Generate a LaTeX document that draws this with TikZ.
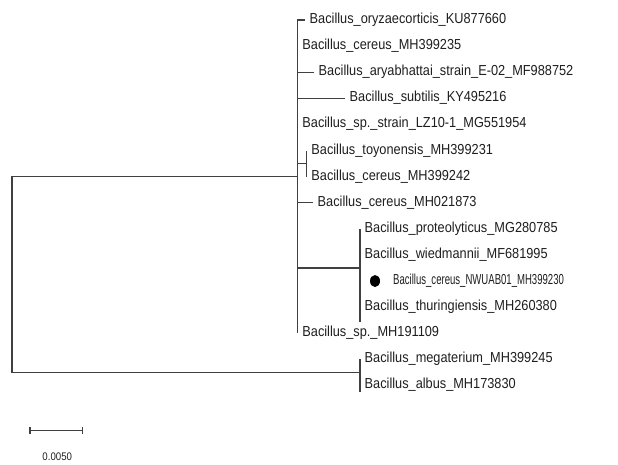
\documentclass[tikz,border=0pt]{standalone}
\usepackage{fontspec}
\setmainfont{Liberation Sans}[FakeStretch=0.88]
\newfontfamily\narrowsans{Liberation Sans}[FakeStretch=0.66]
\usetikzlibrary{shapes.geometric, arrows.meta}
\definecolor{linegray}{HTML}{404040}
\definecolor{textgray}{HTML}{1E1E1E}
\tikzset{
    x=1pt, y=-1pt, % one unit is one pixel, y runs down
    branch/.style={draw=linegray, line width=1.2pt}, % tree edges
    leaf/.style={anchor=west, inner xsep=4.5pt, inner ysep=0pt, text height=0.8em, text depth=0.1em,
        font=\fontsize{14.5}{17}\selectfont, text=textgray}, % taxon labels
    marker/.style={ellipse, fill=black, minimum width=10pt, minimum height=12pt, inner sep=0pt},
}
\begin{document}
\begin{tikzpicture}
    \useasboundingbox (0,0) rectangle (618,464);
    % inner nodes
    \coordinate (nRoot) at (12,274.5);
    \coordinate (nMain) at (297.7,176.7);
    \coordinate (nToy) at (306.7,163.5);
    \coordinate (nPro) at (360,268);
    \coordinate (nMeg) at (360,372.3);
    % leaves
    \node[leaf] (oryz) at (305,20) {Bacillus\_oryzaecorticis\_KU877660};
    \node[leaf] (cer235) at (297.7,46.1) {Bacillus\_cereus\_MH399235};
    \node[leaf] (arya) at (314,72.2) {Bacillus\_aryabhattai\_strain\_E-02\_MF988752};
    \node[leaf] (subt) at (345,98.3) {Bacillus\_subtilis\_KY495216};
    \node[leaf] (lz10) at (297.7,124.4) {Bacillus\_sp.\_strain\_LZ10-1\_MG551954};
    \node[leaf] (toyo) at (306.7,150.5) {Bacillus\_toyonensis\_MH399231};
    \node[leaf] (cer242) at (306.7,176.6) {Bacillus\_cereus\_MH399242};
    \node[leaf] (cer873) at (313,202.7) {Bacillus\_cereus\_MH021873};
    \node[leaf] (prot) at (360,228.8) {Bacillus\_proteolyticus\_MG280785};
    \node[leaf] (wied) at (360,254.9) {Bacillus\_wiedmannii\_MF681995};
    \coordinate (nwuTip) at (360,281);
    \node[marker] (nwuDot) at (375,281) {};
    \node[leaf, font=\fontsize{14.5}{17}\narrowsans] (nwu) at (388.5,281) {Bacillus\_cereus\_NWUAB01\_MH399230};
    \node[leaf] (thur) at (360,307.1) {Bacillus\_thuringiensis\_MH260380};
    \node[leaf] (sp191) at (297.7,333.2) {Bacillus\_sp.\_MH191109};
    \node[leaf] (mega) at (360,359.3) {Bacillus\_megaterium\_MH399245};
    \node[leaf] (albus) at (360,385.4) {Bacillus\_albus\_MH173830};
    \coordinate (proEnd) at (360,321.5);
    \coordinate (megEnd) at (360,392);
    % edges
    \draw[branch] (nRoot) |- (nMain) (nRoot) |- (nMeg)
        (nMain) |- (oryz.west) (nMain) |- (cer235.west) (nMain) |- (arya.west)
        (nMain) |- (subt.west) (nMain) |- (lz10.west) (nMain) |- (nToy)
        (nMain) |- (cer873.west) (nMain) |- (nPro) (nMain) |- (sp191.west)
        (nToy) |- (toyo.west) (nToy) |- (cer242.west)
        (nPro) |- (prot.west) (nPro) |- (wied.west) (nPro) |- (nwuTip) (nPro) |- (thur.west)
        (thur.west) -- (proEnd)
        (nMeg) |- (mega.west) (nMeg) |- (albus.west) (albus.west) -- (megEnd);
    % scale bar
    \coordinate (barL) at (29.3,430.7);
    \coordinate (barR) at (83.3,430.7);
    \draw[branch, {Bar[width=7pt]}-{Bar[width=7pt]}] (barL) -- (barR);
    \node[font=\fontsize{11}{13}\selectfont, text=textgray] (barText) at (57.3,456.7) {0.0050};
\end{tikzpicture}
\end{document}
